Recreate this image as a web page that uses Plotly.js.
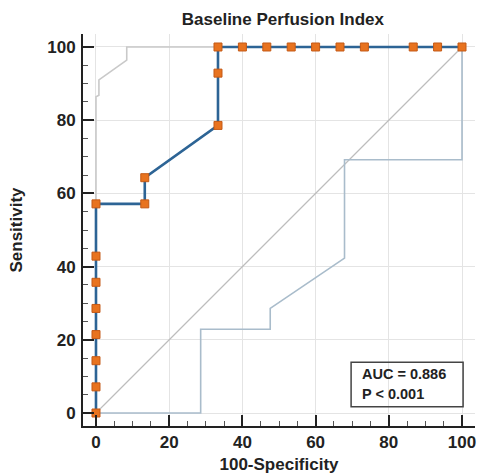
<!DOCTYPE html>
<html>
<head>
<meta charset="utf-8">
<script src="https://cdn.plot.ly/plotly-3.0.1.min.js"></script>
<style>html,body{margin:0;padding:0;background:#fff;}#chart{width:477px;height:475px;}</style>
</head>
<body>
<div id="chart"></div>
<script>
// ROC curve points (100-Specificity, Sensitivity)
const rocX = [0, 0, 0, 0, 0, 0, 0, 0, 13.33, 13.33, 33.33, 33.33, 33.33, 40, 46.67, 53.33, 60, 66.67, 73.33, 86.67, 93.33, 100];
const rocY = [0, 7.14, 14.29, 21.43, 28.57, 35.71, 42.86, 57.14, 57.14, 64.29, 78.57, 92.86, 100, 100, 100, 100, 100, 100, 100, 100, 100, 100];
// Upper confidence bound
const upperX = [0, 0, 0.8, 0.8, 8.4, 8.4, 100];
const upperY = [0, 86.4, 86.8, 91, 96.4, 100, 100];
// Lower confidence bound
const lowerX = [0, 28.6, 28.6, 47.6, 47.6, 67.9, 67.9, 100, 100];
const lowerY = [0, 0, 22.9, 22.9, 28.6, 42.3, 69.2, 69.2, 100];
// Reference diagonal
const diagX = [0, 100];
const diagY = [0, 100];
const tickVals = [0, 20, 40, 60, 80, 100];
const tickText = ['0', '20', '40', '60', '80', '100'];
const aucText = 'AUC = 0.886';
const pText = 'P < 0.001';

const font = 'Liberation Sans, Arial, sans-serif';
const traces = [
  {x: diagX, y: diagY, mode: 'lines', line: {color: '#bdbdbd', width: 1.2}, hoverinfo: 'skip'},
  {x: upperX, y: upperY, mode: 'lines', line: {color: '#c9c9c9', width: 1.6}, hoverinfo: 'skip'},
  {x: lowerX, y: lowerY, mode: 'lines', line: {color: '#a9bccb', width: 1.6}, hoverinfo: 'skip'},
  {x: rocX, y: rocY, mode: 'lines+markers',
   line: {color: '#2d6495', width: 2.6},
   marker: {symbol: 'square', size: 8, color: '#e8731f', line: {color: '#c45a17', width: 1}}}
];
const axisBase = {
  range: [-3.55, 103.55],
  tickvals: tickVals, ticktext: tickText,
  ticks: 'inside', ticklen: 11, tickwidth: 2, tickcolor: '#222',
  minor: {dtick: 5, tick0: 0, ticks: 'inside', ticklen: 5, tickwidth: 1, tickcolor: '#555', showgrid: false},
  showline: true, linecolor: '#222', linewidth: 2,
  showgrid: true, gridcolor: '#e4e4e4', gridwidth: 1,
  zeroline: false,
  tickfont: {family: font, size: 17, color: '#222', weight: 'bold'},
  fixedrange: true
};
const layout = {
  width: 477, height: 475,
  margin: {l: 83, r: 2, t: 34, b: 49},
  paper_bgcolor: '#fff', plot_bgcolor: '#fff',
  showlegend: false,
  title: {text: '<b>Baseline Perfusion Index</b>', font: {family: font, size: 17, color: '#222'},
          x: 0.593, xanchor: 'center', y: 0.96, yanchor: 'middle'},
  xaxis: Object.assign({}, axisBase, {
    title: {text: '<b>100-Specificity</b>', font: {family: font, size: 17, color: '#222'}, standoff: 7}
  }),
  yaxis: Object.assign({}, axisBase, {
    ticklabelstandoff: 2,
    title: {text: '<b>Sensitivity</b>', font: {family: font, size: 17, color: '#222'}, standoff: 20}
  }),
  shapes: [
    {type: 'rect', xref: 'x', yref: 'y', x0: 69.7, x1: 100.3, y0: 1.7, y1: 13.9,
     line: {color: '#444', width: 1.5}, fillcolor: 'rgba(255,255,255,0)'}
  ],
  annotations: [
    {xref: 'x', yref: 'y', x: 72.0, y: 10.7, xanchor: 'left', yanchor: 'middle', showarrow: false,
     text: '<b>' + aucText + '</b>', font: {family: font, size: 14.5, color: '#222'}},
    {xref: 'x', yref: 'y', x: 72.0, y: 5.2, xanchor: 'left', yanchor: 'middle', showarrow: false,
     text: '<b>' + pText + '</b>', font: {family: font, size: 14.5, color: '#222'}}
  ]
};
Plotly.newPlot('chart', traces, layout, {displayModeBar: false, staticPlot: true});
</script>
</body>
</html>
